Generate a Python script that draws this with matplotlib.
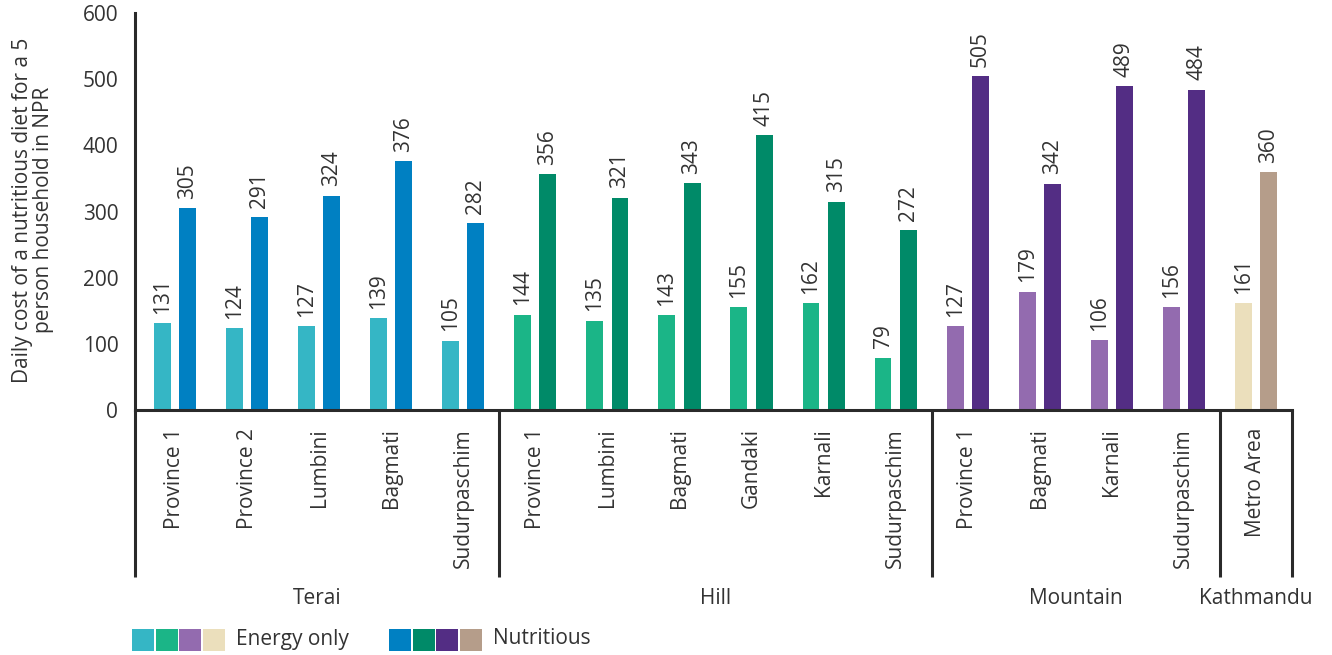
import matplotlib
matplotlib.use("Agg")
import matplotlib.pyplot as plt
from matplotlib.patches import Rectangle
import numpy as np

plt.rcParams['font.family'] = ['Open Sans', 'DejaVu Sans']

# Regions (groups) and their provinces
groups = ['Terai', 'Hill', 'Mountain', 'Kathmandu']
provinces = [
    ['Province 1', 'Province 2', 'Lumbini', 'Bagmati', 'Sudurpaschim'],
    ['Province 1', 'Lumbini', 'Bagmati', 'Gandaki', 'Karnali', 'Sudurpaschim'],
    ['Province 1', 'Bagmati', 'Karnali', 'Sudurpaschim'],
    ['Metro Area'],
]

# Daily cost (NPR) for a 5 person household
energy_only = [
    [131, 124, 127, 139, 105],
    [144, 135, 143, 155, 162, 79],
    [127, 179, 106, 156],
    [161],
]
nutritious = [
    [305, 291, 324, 376, 282],
    [356, 321, 343, 415, 315, 272],
    [505, 342, 489, 484],
    [360],
]

energy_colors = ['#35b6c5', '#1bb587', '#936baf', '#ebdfbc']
nutri_colors = ['#0080c2', '#008a68', '#532d84', '#b59d8a']

text_color = '#333333'
line_color = '#2a2a2a'
fs = 15

fig = plt.figure(figsize=(13.32, 6.55), dpi=100)
W, H = 1332, 655
ax = fig.add_axes([135 / W, 1 - 410 / H, (1292 - 135) / W, (410 - 13) / H])

bw = 0.235
off = 0.175
xpos = 0
ticks, ticklabels = [], []
bounds = [-0.555]
for g, names in enumerate(provinces):
    for i, name in enumerate(names):
        e = energy_only[g][i]
        n = nutritious[g][i]
        ax.bar(xpos - off, e, width=bw, color=energy_colors[g])
        ax.bar(xpos + off, n, width=bw, color=nutri_colors[g])
        ax.text(xpos - off, e + 14, str(e), rotation=90, ha='center', va='bottom',
                fontsize=fs, color=text_color)
        ax.text(xpos + off, n + 14, str(n), rotation=90, ha='center', va='bottom',
                fontsize=fs, color=text_color)
        ticks.append(xpos)
        ticklabels.append(name)
        xpos += 1
    bounds.append(xpos - 0.5)

ax.set_xlim(bounds[0], bounds[-1])
ax.set_ylim(0, 600)
ax.set_yticks(range(0, 601, 100))
ax.tick_params(axis='y', length=0, pad=12, labelsize=fs, labelcolor=text_color)
ax.set_xticks(ticks)
ax.set_xticklabels(ticklabels, rotation=90, va='top', ha='center')
ax.tick_params(axis='x', length=0, pad=13, labelsize=fs, labelcolor=text_color)

for side in ['top', 'right']:
    ax.spines[side].set_visible(False)
for side in ['left', 'bottom']:
    ax.spines[side].set_linewidth(2.2)
    ax.spines[side].set_color(line_color)

fig.text(33 / W, 1 - 210 / H,
         'Daily cost of a nutritious diet for a 5\nperson household in NPR',
         rotation=90, ha='center', va='center', fontsize=fs, color=text_color,
         linespacing=1.05)

# Group separators below the axis and group names
trans = ax.get_xaxis_transform()
sep_bottom = -(577 - 410) / (410 - 13)
for b in bounds:
    ax.plot([b, b], [0, sep_bottom], transform=trans, color=line_color,
            lw=2.2, clip_on=False, solid_capstyle='butt')
for g, name in enumerate(groups):
    mid = (bounds[g] + bounds[g + 1]) / 2
    ax.text(mid, -(598 - 410) / (410 - 13), name, transform=trans,
            ha='center', va='center', fontsize=fs, color=text_color)

# Legend: colour swatches per region for each cost type
sq = 22
def swatch_row(x0, colors, label):
    for k, c in enumerate(colors):
        fig.add_artist(Rectangle(((x0 + k * (sq + 1.5)) / W, 1 - 651 / H), sq / W, sq / H,
                                 transform=fig.transFigure, color=c, lw=0))
    fig.text((x0 + 4 * (sq + 1.5) + 10) / W, 1 - 639 / H, label, ha='left', va='center',
             fontsize=fs, color=text_color)

swatch_row(132, energy_colors, 'Energy only')
swatch_row(389, nutri_colors, 'Nutritious')

fig.savefig('out.png', dpi=100)
